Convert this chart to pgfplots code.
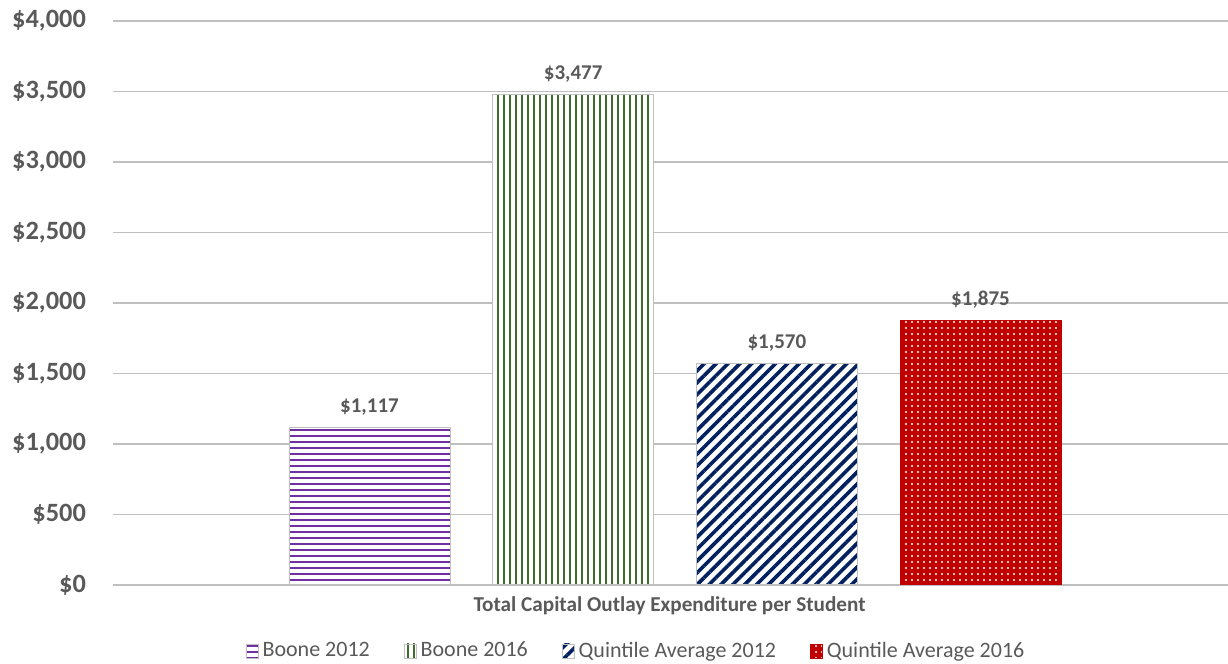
\documentclass[border=0pt]{standalone}
\usepackage{pgfplots}
\pgfplotsset{compat=1.18}
\usetikzlibrary{patterns.meta}
\usepackage{fontspec}
\setmainfont{Carlito}
\definecolor{txt}{HTML}{595959}
\definecolor{gridc}{HTML}{BFBFBF}
\definecolor{cpurple}{HTML}{7030A0}
\definecolor{cgreen}{HTML}{3F6B2B}
\definecolor{cnavy}{HTML}{002060}
\definecolor{cred}{HTML}{C00000}
\begin{document}
\begin{tikzpicture}
\useasboundingbox (-56.5pt,-39.5pt) rectangle (557.5pt,292.5pt);
\begin{axis}[
  scale only axis,
  width=557.5pt, height=282pt,
  xmin=-0.2594, xmax=5.215,
  ymin=0, ymax=4000,
  ytick={0,500,...,4000},
  xtick={2.473},
  xticklabels={Total Capital Outlay Expenditure per Student},
  major tick length=0pt,
  axis line style={draw=none},
  ymajorgrids,
  grid style={color=gridc, line width=0.8pt},
  /pgf/number format/assume math mode=true,
  yticklabel={\$\pgfmathprintnumber[1000 sep={,}]{\tick}},
  yticklabel style={font=\bfseries\fontsize{13.2}{15}\selectfont, text=txt, xshift=-10pt},
  xticklabel style={font=\bfseries\fontsize{10.6}{12}\selectfont, text=txt, yshift=-2.5pt},
  nodes near coords={\$\pgfmathprintnumber[1000 sep={,}]{\pgfplotspointmeta}},
  every node near coord/.append style={font=\bfseries\fontsize{10.5}{12}\selectfont, text=txt, yshift=2.5pt},
  legend style={at={(0.470,-0.117)}, anchor=center, draw=none, fill=none,
    font=\fontsize{11}{12}\selectfont, text=txt,
    /tikz/every even column/.append style={column sep=15pt}},
  legend columns=4,
  legend cell align=left,
  legend image code/.code={\draw[#1, line width=0.4pt] (0pt,-3.5pt) rectangle (6pt,3.5pt);},
]
\addplot[ybar, bar width=0.7905, bar shift=0pt, draw=gridc, line width=0.5pt, fill=white,
  postaction={pattern={Lines[angle=0,distance=3pt,line width=1pt]}, pattern color=cpurple}]
  coordinates {(1,1117)};
\addlegendentry{Boone 2012}
\addplot[ybar, bar width=0.7905, bar shift=0pt, draw=gridc, line width=0.5pt, fill=white,
  postaction={pattern={Lines[angle=90,distance=3pt,line width=1pt]}, pattern color=cgreen}]
  coordinates {(2,3477)};
\addlegendentry{Boone 2016}
\addplot[ybar, bar width=0.7905, bar shift=0pt, draw=gridc, line width=0.5pt, fill=white,
  postaction={pattern={Lines[angle=45,distance=4.2pt,line width=1.8pt]}, pattern color=cnavy}]
  coordinates {(3,1570)};
\addlegendentry{Quintile Average 2012}
\addplot[ybar, bar width=0.7905, bar shift=0pt, draw=cred, line width=0.5pt, fill=cred,
  postaction={pattern={Dots[distance=3pt,radius=0.55pt]}, pattern color=white}]
  coordinates {(4,1875)};
\addlegendentry{Quintile Average 2016}
\end{axis}
\end{tikzpicture}
\end{document}
